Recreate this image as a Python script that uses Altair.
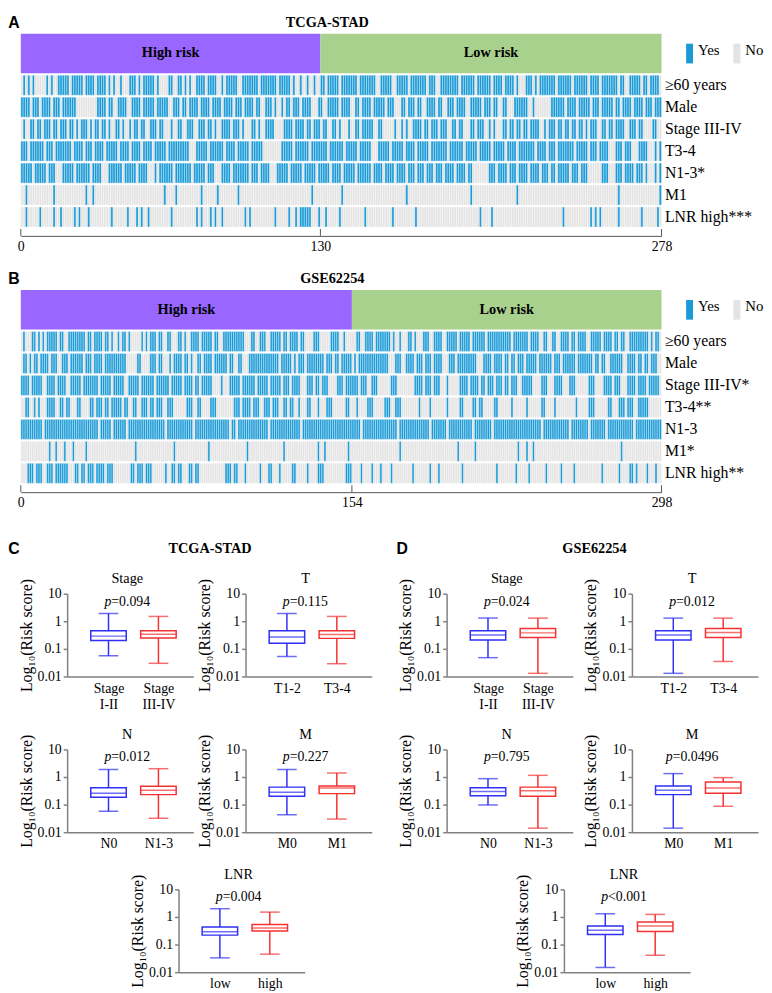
import json
import altair as alt
import pandas as pd

SERIF = "Liberation Serif"
SANS = "Liberation Sans"
YES_COL = "#1a9ad6"
NO_COL = "#e3e3e3"
HIGH_COL = "#9966ff"
LOW_COL = "#a9d18e"
BOX_COLS = ["#2f2ff5", "#f53030"]
AXIS_COL = "#808080"
HEAT_AXIS_COL = "#555555"

RISK_GROUPS = ["High risk", "Low risk"]
LEGEND_LABELS = ["Yes", "No"]

# ---------------- Panel A: TCGA-STAD ----------------
A_TITLE = "TCGA-STAD"
A_N = 278
A_CUT = 130
A_TICKS = [0, 130, 278]
A_ROWS = ["≥60 years", "Male", "Stage III-IV", "T3-4", "N1-3*", "M1", "LNR high***"]
A_AGE = [(1, 1), (3, 3), (5, 5), (11, 11), (13, 13), (16, 20), (22, 26), (28, 31), (33, 36), (38, 38), (40, 40),
         (43, 43), (47, 49), (51, 51), (53, 57), (59, 59), (64, 65), (68, 69), (71, 71), (73, 73), (76, 79),
         (81, 84), (87, 87), (89, 93), (96, 102), (104, 110), (112, 116), (118, 118), (121, 121), (124, 124),
         (127, 127), (130, 131), (133, 137), (139, 145), (147, 153), (156, 160), (163, 167), (169, 175),
         (177, 179), (182, 189), (191, 196), (198, 203), (205, 208), (210, 213), (215, 215), (219, 221),
         (223, 223), (225, 231), (233, 238), (240, 245), (247, 250), (252, 256), (257, 258), (260, 261),
         (264, 268), (270, 271), (273, 276)]
A_MALE = [(0, 3), (5, 7), (9, 12), (14, 16), (18, 23), (33, 36), (38, 39), (42, 45), (48, 51), (53, 57), (59, 63),
          (66, 68), (70, 71), (73, 76), (78, 81), (83, 86), (88, 91), (93, 95), (97, 100), (102, 103), (106, 108),
          (110, 110), (113, 113), (115, 116), (118, 120), (122, 125), (129, 130), (133, 137), (139, 142),
          (145, 146), (148, 151), (153, 157), (159, 161), (165, 166), (168, 170), (172, 173), (176, 179),
          (181, 182), (185, 187), (189, 192), (195, 199), (201, 203), (205, 206), (209, 210), (214, 219),
          (222, 222), (230, 235), (237, 240), (242, 246), (248, 250), (252, 256), (258, 259), (261, 264),
          (266, 269), (271, 273), (275, 277)]
A_STAGE = [(1, 1), (4, 5), (7, 8), (10, 12), (14, 15), (17, 19), (21, 22), (24, 24), (26, 28), (30, 30), (32, 33),
           (35, 36), (38, 38), (41, 42), (44, 44), (47, 47), (49, 50), (52, 53), (56, 58), (60, 61), (65, 65),
           (68, 69), (72, 74), (77, 79), (81, 82), (84, 84), (87, 90), (92, 94), (96, 96), (100, 101), (103, 103),
           (106, 109), (114, 117), (119, 122), (124, 125), (127, 129), (131, 132), (135, 136), (138, 138),
           (142, 142), (145, 146), (148, 152), (155, 156), (162, 162), (165, 165), (167, 167), (170, 173),
           (175, 176), (178, 180), (182, 184), (187, 188), (190, 191), (195, 196), (198, 200), (203, 203),
           (205, 205), (209, 210), (212, 213), (215, 216), (218, 219), (221, 224), (227, 227), (229, 231),
           (233, 234), (236, 237), (239, 240), (242, 243), (245, 245), (247, 249), (252, 253), (255, 256),
           (258, 261), (264, 266), (268, 269), (274, 275)]
A_T = [(0, 2), (4, 9), (11, 13), (15, 21), (23, 26), (28, 30), (32, 35), (37, 41), (43, 46), (48, 51), (53, 56),
       (58, 62), (64, 72), (76, 80), (82, 87), (89, 92), (94, 98), (100, 104), (113, 117), (119, 124), (126, 132),
       (134, 139), (141, 145), (147, 151), (155, 159), (161, 165), (167, 170), (172, 176), (178, 184), (186, 191),
       (193, 197), (199, 203), (205, 209), (211, 214), (216, 222), (224, 227), (229, 231), (233, 239), (241, 245),
       (247, 249), (251, 254), (258, 260), (262, 264), (268, 271), (275, 275), (277, 277)]
A_NODE = [(0, 4), (6, 10), (12, 14), (18, 22), (24, 29), (31, 34), (38, 43), (45, 49), (51, 54), (58, 58), (60, 65),
          (67, 73), (75, 79), (81, 83), (87, 90), (92, 98), (100, 102), (104, 107), (111, 115), (117, 121),
          (123, 127), (129, 133), (135, 138), (140, 144), (146, 151), (153, 156), (158, 161), (163, 166),
          (168, 170), (172, 174), (176, 178), (180, 182), (184, 187), (189, 192), (194, 195), (203, 205),
          (207, 210), (212, 214), (216, 219), (221, 224), (226, 228), (230, 231), (233, 237), (239, 241),
          (243, 245), (252, 254), (258, 260), (262, 265), (267, 269), (271, 271), (275, 275), (277, 277)]
A_META = [2, 14, 28, 31, 62, 67, 78, 85, 94, 126, 139, 167, 195, 215, 259, 277]
A_LNR = [2, 8, 14, 17, 23, 25, 29, 39, 46, 50, 52, 55, 65, 76, 78, 82, 84, 87, 97, 99, 110, 116, 119, (121, 125),
         129, 132, 138, 149, 161, 171, 199, 204, 235, 247, 249, 251, 259, 269, 276]
A_DATA = [A_AGE, A_MALE, A_STAGE, A_T, A_NODE, A_META, A_LNR]

# ---------------- Panel B: GSE62254 ----------------
B_TITLE = "GSE62254"
B_N = 298
B_CUT = 154
B_TICKS = [0, 154, 298]
B_ROWS = ["≥60 years", "Male", "Stage III-IV*", "T3-4**", "N1-3", "M1*", "LNR high**"]
B_AGE = [(1, 1), (5, 6), (8, 8), (10, 10), (12, 16), (18, 19), (22, 26), (27, 29), (31, 32), (34, 37), (39, 40),
         (42, 42), (45, 45), (47, 48), (50, 50), (56, 56), (58, 58), (60, 62), (64, 65), (68, 69), (73, 74),
         (76, 76), (79, 82), (84, 88), (90, 91), (94, 100), (101, 103), (107, 108), (111, 113), (116, 120),
         (122, 123), (125, 128), (130, 131), (136, 138), (144, 147), (150, 150), (156, 157), (160, 163),
         (165, 171), (173, 173), (176, 176), (180, 181), (183, 183), (187, 189), (192, 195), (198, 202),
         (204, 208), (210, 215), (217, 221), (222, 227), (229, 235), (237, 240), (243, 244), (247, 248),
         (251, 254), (256, 257), (259, 262), (265, 269), (271, 274), (276, 277), (279, 280), (283, 291),
         (293, 293), (295, 296)]
B_MALE = [(1, 2), (4, 4), (6, 7), (9, 12), (14, 16), (19, 21), (23, 28), (30, 32), (34, 37), (39, 48), (54, 55),
          (60, 62), (64, 65), (69, 69), (71, 74), (76, 77), (79, 79), (82, 83), (85, 88), (90, 95), (97, 98),
          (101, 102), (106, 111), (112, 119), (121, 125), (127, 127), (129, 131), (133, 140), (142, 144),
          (146, 147), (149, 153), (155, 155), (157, 167), (168, 170), (174, 176), (179, 182), (184, 186),
          (188, 190), (192, 195), (199, 201), (203, 211), (215, 218), (220, 223), (225, 226), (228, 229),
          (231, 233), (235, 239), (241, 246), (248, 250), (252, 257), (259, 265), (267, 268), (270, 271),
          (274, 279), (282, 285), (287, 288), (290, 291), (293, 295)]
B_STAGE = [(0, 3), (5, 9), (12, 15), (17, 20), (23, 27), (29, 35), (37, 41), (43, 47), (50, 54), (56, 61), (63, 68),
           (70, 74), (76, 79), (81, 82), (84, 88), (93, 93), (97, 101), (103, 108), (110, 114), (116, 120),
           (122, 124), (126, 129), (133, 135), (137, 138), (140, 142), (147, 149), (151, 156), (158, 160),
           (163, 165), (172, 174), (183, 186), (188, 190), (192, 194), (198, 198), (204, 207), (209, 212),
           (214, 215), (217, 219), (221, 223), (225, 226), (228, 230), (233, 237), (242, 244), (248, 251),
           (255, 257), (264, 266), (271, 274), (276, 278), (282, 285), (287, 290), (292, 296)]
B_T = [(2, 3), 6, 8, (12, 15), (18, 19), (21, 22), (26, 27), (32, 33), (35, 37), (39, 40), (42, 46), (48, 49),
       (52, 53), (56, 58), (60, 61), (63, 65), (68, 70), (77, 79), (82, 83), (88, 90), (99, 101), (103, 106),
       (108, 110), (113, 115), (117, 119), (122, 123), (125, 126), 129, (133, 134), 138, (142, 144), (151, 152),
       156, (161, 163), (169, 171), (174, 176), 185, 190, 198, (204, 205), (210, 211), (213, 214), (220, 221),
       228, 235, (242, 243), 248, 258, (264, 266), (273, 274), (278, 280), (282, 284), (287, 291)]
B_NODE = [(0, 9), (11, 35), (37, 41), (43, 48), (50, 66), (68, 79), (81, 96), (98, 99), (101, 114), (116, 129),
          (131, 157), (159, 174), (176, 189), (191, 197), (199, 209), (211, 218), (220, 241), (243, 254),
          (256, 263), (265, 271), (273, 284), (286, 297)]
B_META = [13, 16, 20, 24, 30, 53, 71, 87, 105, 122, 138, 141, 152, 176, 203, 211, 231, 235, 238, 279]
B_LNR = [(3, 5), (7, 9), (12, 14), (16, 19), (20, 21), (25, 26), (28, 29), (31, 33), (35, 38), (40, 42), (51, 52),
         (54, 56), (58, 60), 67, (70, 71), (73, 74), (78, 79), (81, 82), (95, 97), (99, 100), 104, 111, (115, 116),
         120, (126, 127), 133, (138, 140), (151, 153), 158, 163, 167, 172, 182, 190, 194, 205, 221, 230, 236, 244,
         251, 257, 270, 278, (283, 284), 286, 291, 295]
B_DATA = [B_AGE, B_MALE, B_STAGE, B_T, B_NODE, B_META, B_LNR]

# ---------------- Box plots (lo, q1, median, q3, hi) ----------------
BOX_TITLES = ["Stage", "T", "N", "M", "LNR"]
BOX_CATS = [["Stage\nI-II", "Stage\nIII-IV"], ["T1-2", "T3-4"], ["N0", "N1-3"], ["M0", "M1"], ["low", "high"]]
C_TITLE = "TCGA-STAD"
C_P = ["=0.094", "=0.115", "=0.012", "=0.227", "=0.004"]
C_STATS = [
    [(0.056, 0.20, 0.29, 0.45, 1.93), (0.030, 0.25, 0.34, 0.45, 1.50)],
    [(0.053, 0.16, 0.27, 0.45, 1.93), (0.029, 0.24, 0.33, 0.45, 1.50)],
    [(0.057, 0.185, 0.26, 0.41, 1.87), (0.032, 0.23, 0.33, 0.46, 2.0)],
    [(0.043, 0.20, 0.28, 0.43, 1.87), (0.030, 0.25, 0.40, 0.47, 1.40)],
    [(0.033, 0.22, 0.29, 0.435, 1.99), (0.045, 0.31, 0.40, 0.53, 1.50)],
]
D_TITLE = "GSE62254"
D_P = ["=0.024", "=0.012", "=0.795", "=0.0496", "<0.001"]
D_STATS = [
    [(0.048, 0.21, 0.32, 0.45, 1.31), (0.013, 0.26, 0.38, 0.55, 1.30)],
    [(0.013, 0.21, 0.32, 0.45, 1.30), (0.035, 0.26, 0.39, 0.55, 1.30)],
    [(0.097, 0.21, 0.30, 0.41, 0.87), (0.014, 0.20, 0.32, 0.43, 1.15)],
    [(0.014, 0.23, 0.33, 0.47, 1.33), (0.087, 0.26, 0.40, 0.66, 0.95)],
    [(0.0148, 0.23, 0.33, 0.47, 1.31), (0.041, 0.30, 0.47, 0.66, 1.24)],
]

HEAT_W = 650
HEAT_H = 154
BOX_W = 128
BOX_H = 84
LETTER_X = -7
LETTER_SIZE = 16
HEAD_Y = -11


def expand(n, runs):
    flags = [0] * n
    for r in runs:
        a, b = (r, r) if isinstance(r, int) else r
        for i in range(a, b + 1):
            if 0 <= i < n:
                flags[i] = 1
    return flags


def text_mark(t, x, y, font=SERIF, size=14.5, weight="normal", opacity=1.0, align="center"):
    return alt.Chart(pd.DataFrame({"t": [t]})).mark_text(
        font=font, fontSize=size, fontWeight=weight, color="black", align=align, baseline="middle",
        opacity=opacity
    ).encode(x=alt.value(x), y=alt.value(y), text="t:N")


def letter(t, x, y, opacity=1.0):
    return text_mark(t, x, y, font=SANS, size=LETTER_SIZE, weight="bold", opacity=opacity)


def spacer(w, extra=()):
    pt = alt.Chart(pd.DataFrame({"z": [0]})).mark_point(opacity=0).encode(x=alt.value(0), y=alt.value(0))
    ghost = letter("C", LETTER_X, 0, 0.0)
    return alt.layer(pt, ghost, *extra).properties(width=w, height=1)


def heat_panel(let, title, title_x, n, cut, ticks, labels, data):
    xs = alt.Scale(domain=[0, n], nice=False, zero=False)
    rdf = pd.DataFrame({"g": RISK_GROUPS, "s": [0, cut], "e": [cut, n],
                        "m": [cut / 2, (cut + n) / 2], "c": [HIGH_COL, LOW_COL]})
    rb = alt.Chart(rdf)
    rect = rb.mark_rect().encode(x=alt.X("s:Q", scale=xs, axis=None), x2="e:Q",
                                 color=alt.Color("c:N", scale=None))
    txt = rb.mark_text(font=SERIF, fontSize=14.5, fontWeight="bold", color="black").encode(
        x=alt.X("m:Q", scale=xs, axis=None), text="g:N")
    legs = []
    for k, (lab, c) in enumerate(zip(LEGEND_LABELS, [YES_COL, NO_COL])):
        x0 = HEAT_W + 25 + k * 48
        sw = alt.Chart(pd.DataFrame({"c": [c]})).mark_rect(color=c).encode(
            x=alt.value(x0), x2=alt.value(x0 + 7), y=alt.value(10), y2=alt.value(30))
        legs.append(sw)
        legs.append(text_mark(lab, x0 + 12, 16, size=15, align="left"))
    risk = alt.layer(rect, txt, letter(let, LETTER_X, HEAD_Y),
                     text_mark(title, title_x, HEAD_Y, weight="bold"), *legs).properties(width=HEAT_W, height=40)
    recs = []
    for lab, runs in zip(labels, data):
        for i, f in enumerate(expand(n, runs)):
            recs.append({"i": i, "i2": i + 1, "row": lab, "c": YES_COL if f else NO_COL})
    hdf = pd.DataFrame(recs)
    heat = alt.Chart(hdf).mark_rect(stroke="white", strokeWidth=0.35).encode(
        x=alt.X("i:Q", scale=xs, axis=None), x2="i2:Q",
        y=alt.Y("row:N", sort=labels, scale=alt.Scale(paddingInner=0.09, paddingOuter=0),
                axis=alt.Axis(orient="right", title=None, ticks=False, domain=False, labelFont=SERIF,
                              labelFontSize=16, labelColor="black", labelPadding=3)),
        color=alt.Color("c:N", scale=None),
    ).properties(width=HEAT_W, height=HEAT_H)
    adf = pd.DataFrame({"t": ticks})
    axis = alt.Chart(adf).mark_rule(color=HEAT_AXIS_COL, strokeWidth=1).encode(
        x=alt.X("t:Q", scale=xs, axis=alt.Axis(values=ticks, title=None, ticks=False, grid=False,
                                               domainColor=HEAT_AXIS_COL, labelFont=SERIF, labelFontSize=14,
                                               labelColor="black", labelPadding=4, labelFlush=False,
                                               labelOverlap=False, format="d"))
    ).properties(width=HEAT_W, height=7)
    return alt.vconcat(risk, heat, axis, spacing=2, bounds="flush")


CW = {"p": 7.0, "=": 7.9, "<": 7.9, ".": 3.5}


def tw(s):
    return sum(CW.get(ch, 7.0) for ch in s)


def box_chart(title, cats, stats, ptxt):
    lo, q1, md, q3, hi = zip(*stats)
    df = pd.DataFrame({"pos": [1, 2], "lo": lo, "q1": q1, "md": md, "q3": q3, "hi": hi, "c": BOX_COLS})
    xs = alt.Scale(domain=[0.27, 2.6], nice=False, zero=False)
    ys = alt.Scale(type="log", domain=[0.01, 10], nice=False)
    expr = "datum.value == 1 ? %s : %s" % (json.dumps(cats[0].split("\n")), json.dumps(cats[1].split("\n")))
    xax = alt.Axis(values=[1, 2], labelExpr=expr, title=None, ticks=False, grid=False, domainColor=AXIS_COL,
                   domainWidth=1.5, labelFont=SERIF, labelFontSize=14, labelColor="black", labelPadding=5,
                   labelLineHeight=17, labelFlush=False, labelOverlap=False)
    yax = alt.Axis(values=[0.01, 0.1, 1, 10], format="~g", title="Log₁₀(Risk score)", grid=False,
                   domainColor=AXIS_COL, domainWidth=1.5, tickColor=AXIS_COL, tickSize=4, tickWidth=1.5,
                   labelFont=SERIF, labelFontSize=14, labelColor="black", labelPadding=2,
                   titleFont=SERIF, titleFontSize=16, titleFontWeight="normal", titleColor="black",
                   titlePadding=3, labelFlush=False, labelOverlap=False)
    X = alt.X("pos:Q", scale=xs, axis=xax)
    col = alt.Color("c:N", scale=None)
    base = alt.Chart(df)
    whisk = base.mark_rule(strokeWidth=1.5).encode(x=X, y=alt.Y("lo:Q", scale=ys, axis=yax), y2="hi:Q", color=col)
    box = base.mark_bar(size=36, fill="white", strokeWidth=1.5).encode(
        x=X, y=alt.Y("q1:Q", scale=ys, axis=yax), y2="q3:Q", stroke=alt.Stroke("c:N", scale=None))
    med = base.mark_tick(orient="horizontal", size=36, thickness=1.5).encode(
        x=X, y=alt.Y("md:Q", scale=ys, axis=yax), color=col)
    caplo = base.mark_tick(orient="horizontal", size=20, thickness=1.5).encode(
        x=X, y=alt.Y("lo:Q", scale=ys, axis=yax), color=col)
    caphi = base.mark_tick(orient="horizontal", size=20, thickness=1.5).encode(
        x=X, y=alt.Y("hi:Q", scale=ys, axis=yax), color=col)
    wp, wr = tw("p"), tw(ptxt)
    dxp = -(wp + wr) / 2 - 3
    pdf = pd.DataFrame({"pos": [(0.27 + 2.6) / 2], "y": [10.0], "p": ["p"], "r": [ptxt]})
    pb = alt.Chart(pdf)
    pm = pb.mark_text(font=SERIF, fontSize=14, fontStyle="italic", color="black", align="left",
                      baseline="top", dx=dxp, dy=1).encode(
        x=X, y=alt.Y("y:Q", scale=ys, axis=yax), text="p:N")
    rm = pb.mark_text(font=SERIF, fontSize=14, color="black", align="left", baseline="top",
                      dx=dxp + wp, dy=1).encode(
        x=X, y=alt.Y("y:Q", scale=ys, axis=yax), text="r:N")
    return alt.layer(whisk, box, med, caplo, caphi, pm, rm).properties(
        width=BOX_W, height=BOX_H,
        title=alt.Title(title, font=SERIF, fontSize=14.5, fontWeight="normal", color="black", offset=4, dy=12,
                        dx=-3))


panelA = heat_panel("A", A_TITLE, 311, A_N, A_CUT, A_TICKS, A_ROWS, A_DATA)
panelB = heat_panel("B", B_TITLE, 316, B_N, B_CUT, B_TICKS, B_ROWS, B_DATA)

BLOCK_Y = -45
C = [box_chart(BOX_TITLES[k], BOX_CATS[k], C_STATS[k], C_P[k]) for k in range(5)]
D = [box_chart(BOX_TITLES[k], BOX_CATS[k], D_STATS[k], D_P[k]) for k in range(5)]

# row 1 carries the panel letters and block titles in its spacers (page x: C 8, TCGA 207, D 402, GSE 597)
sp_c = spacer(47, [letter("C", LETTER_X, BLOCK_Y), text_mark(C_TITLE, 192, BLOCK_Y, weight="bold")])
sp_d = spacer(76, [letter("D", 31, BLOCK_Y), text_mark(D_TITLE, 226, BLOCK_Y, weight="bold")])
row1 = alt.hconcat(sp_c, C[0], spacer(53), C[1], sp_d, D[0], spacer(60), D[1], spacing=0, bounds="flush")
row2 = alt.hconcat(spacer(47), C[2], spacer(53), C[3], spacer(76), D[2], spacer(60), D[3],
                   spacing=0, bounds="flush")
row3 = alt.hconcat(spacer(160), C[4], spacer(263), D[4], spacing=0, bounds="flush")

AB = alt.vconcat(panelA, panelB, spacing=18)
CD = alt.vconcat(alt.vconcat(row1, row2, spacing=15), row3, spacing=16)
chart = alt.vconcat(AB, CD, spacing=32).properties(padding=0).configure_view(strokeWidth=0)

chart.save("out.html", embed_options={"renderer": "svg", "actions": False})
